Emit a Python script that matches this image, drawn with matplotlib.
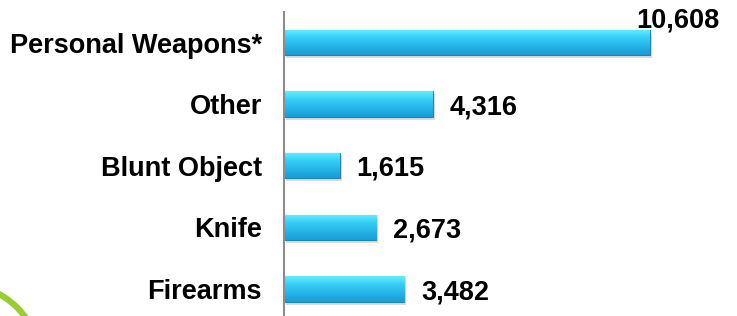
import numpy as np
import matplotlib
matplotlib.use("Agg")
import matplotlib.pyplot as plt
from matplotlib.patches import Arc
from matplotlib.colors import LinearSegmentedColormap
import matplotlib.transforms as mtransforms

# data (bottom to top)
categories = ["Firearms", "Knife", "Blunt Object", "Other", "Personal Weapons*"]
values = [3482, 2673, 1615, 4316, 10608]
labels = ["3,482", "2,673", "1,615", "4,316", "10,608"]

plt.rcParams['font.family'] = ['Liberation Sans', 'DejaVu Sans']
FS = 19.5

fig = plt.figure(figsize=(7.37, 3.16), dpi=100)
ax = fig.add_axes([284 / 737, 0.0, 1 - 284 / 737, (316 - 12) / 316])

y = np.arange(len(categories))

# soft shadow under the bars
shadow_off = mtransforms.offset_copy(ax.transData, fig=fig, x=2, y=-3, units="dots")
ax.barh(y, values, height=0.41, color="#b0b0b0", alpha=0.45,
        transform=shadow_off, zorder=1)

bars = ax.barh(y, values, height=0.41, color="#2ec4f0",
               edgecolor="#1b86b8", linewidth=0.8, zorder=2)

# vertical gradient inside each bar
cmap = LinearSegmentedColormap.from_list(
    "cyan", ["#1a9cd4", "#24b4e8", "#36cdf6", "#62f0ff"])
grad = np.linspace(0, 1, 64).reshape(-1, 1)
for b in bars:
    x0, y0 = b.get_x(), b.get_y()
    w, h = b.get_width(), b.get_height()
    im = ax.imshow(grad, extent=[x0, x0 + w, y0, y0 + h], origin="lower",
                   cmap=cmap, aspect="auto", zorder=2.5)
    im.set_clip_path(b)

ax.set_xlim(0, 13130)
ax.set_ylim(-0.438, 4.495)

for i, (v, lab) in enumerate(zip(values, labels)):
    if v == max(values):
        ax.annotate(lab, (v, i), xytext=(28, 22), textcoords="offset pixels",
                    ha="center", va="center", fontsize=FS, fontweight="bold")
    else:
        ax.annotate(lab, (v, i), xytext=(17, -3), textcoords="offset pixels",
                    ha="left", va="center", fontsize=FS, fontweight="bold")

ax.set_yticks(y)
ax.set_yticklabels(categories, fontsize=FS, fontweight="bold")
ax.tick_params(axis="y", length=0, pad=16)
ax.set_xticks([])
for s in ["top", "right", "bottom"]:
    ax.spines[s].set_visible(False)
ax.spines["left"].set_color("#8c8c8c")
ax.spines["left"].set_linewidth(1.5)
ax.spines["left"].set_zorder(3)

# green decorative arc in the lower left corner
arc = Arc((-40, -49), 162, 162, theta1=0, theta2=90, transform=None,
          color="#9acd32", linewidth=4.5)
fig.add_artist(arc)

fig.savefig("out.png", dpi=100)
